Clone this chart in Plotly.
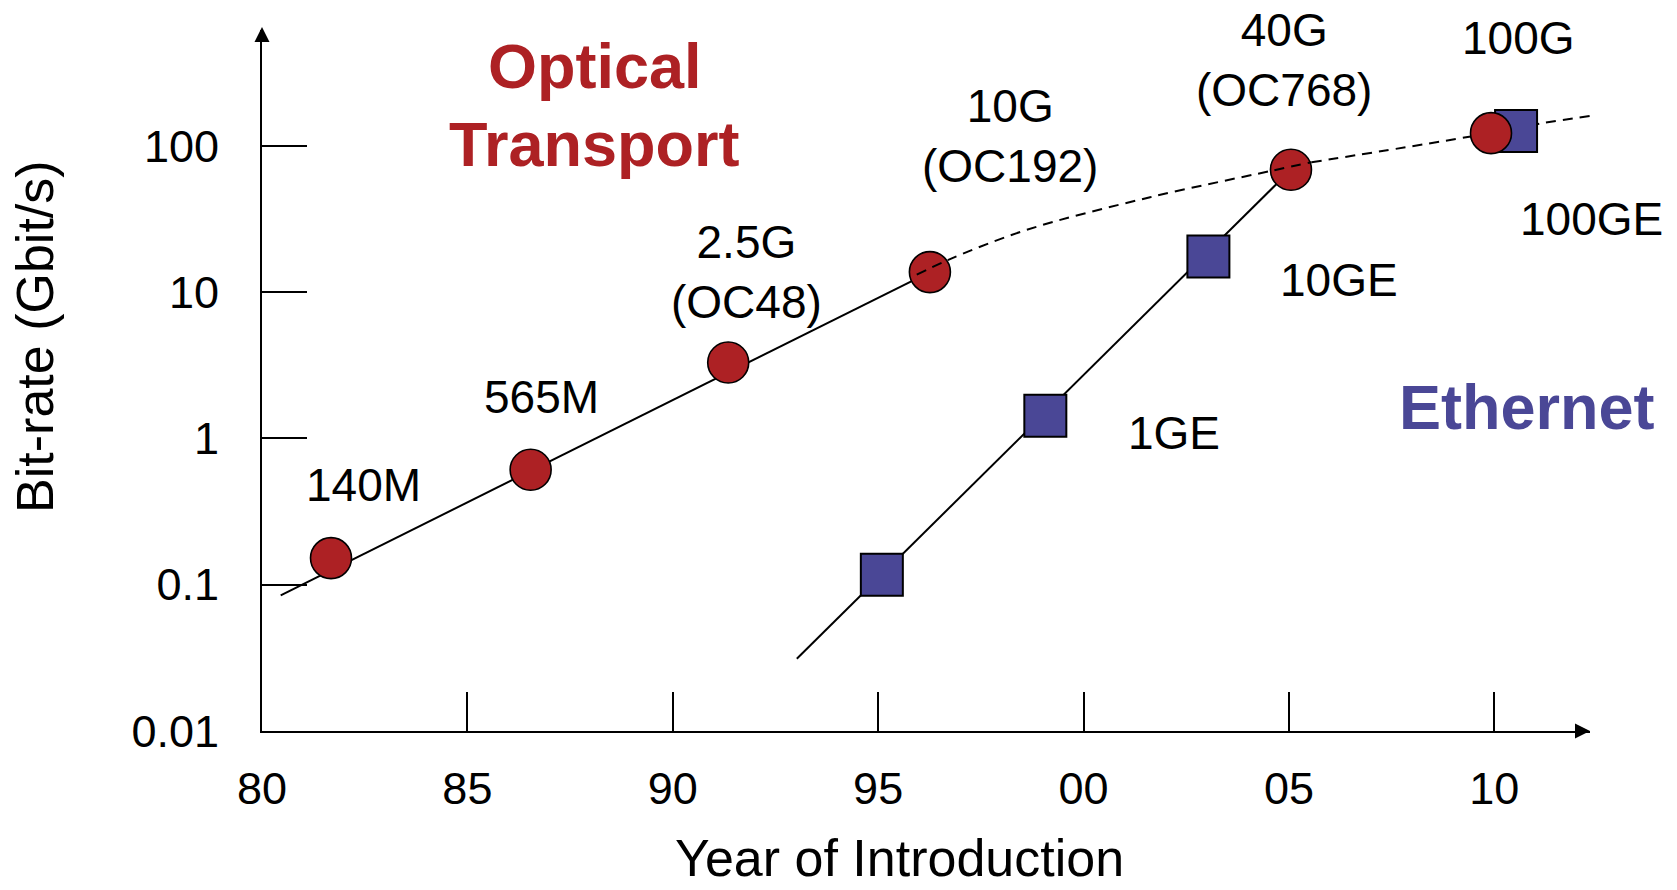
import plotly.graph_objects as go

# ---------------- data ----------------
# Optical transport generations (red circles)
optical_years = [1981.68, 1986.54, 1991.35, 1996.26, 2005.05, 2009.92]
optical_rates = [0.152, 0.611, 3.30, 13.7, 68.6, 122.0]

# Ethernet generations (blue squares)
ethernet_years = [1995.09, 1999.07, 2003.04, 2010.53]
ethernet_rates = [0.117, 1.43, 17.5, 126.0]

# Solid trend lines
optical_trend_years = [1980.455, 1996.26]
optical_trend_rates = [0.0846, 13.7]
ethernet_trend_years = [1993.02, 2005.05]
ethernet_trend_rates = [0.0312, 68.6]

# Dashed projection of optical transport
projection_years = [1995.94, 1996.75, 1998.61, 2001.62, 2004.54, 2005.55, 2009.39, 2011.11, 2012.34]
projection_rates = [13.16, 16.8, 26.6, 44.5, 67.1, 77.2, 115.3, 141.9, 160.0]

# Axis ticks
x_tick_years = [1980, 1985, 1990, 1995, 2000, 2005, 2010]
x_tick_labels = ["80", "85", "90", "95", "00", "05", "10"]
y_tick_values = [0.01, 0.1, 1, 10, 100]
y_tick_labels = ["0.01", "0.1", "1", "10", "100"]

# Text labels
point_labels = ["140M", "565M", "2.5G<br>(OC48)", "10G<br>(OC192)", "40G<br>(OC768)", "100G",
                "1GE", "10GE", "100GE"]
group_labels = ["Optical", "Transport", "Ethernet"]
x_title = "Year of Introduction"
y_title = "Bit-rate (Gbit/s)"

# ---------------- styling ----------------
RED = "#AD2124"
BLUE = "#4A4796"
FONT = "Liberation Sans, Arial, sans-serif"
split = 5  # dashed part drawn above the circles / below the last markers

fig = go.Figure()
fig.add_trace(go.Scatter(x=optical_trend_years, y=optical_trend_rates, mode="lines",
                         line=dict(color="black", width=2), hoverinfo="skip"))
fig.add_trace(go.Scatter(x=ethernet_trend_years, y=ethernet_trend_rates, mode="lines",
                         line=dict(color="black", width=2), hoverinfo="skip"))
fig.add_trace(go.Scatter(x=projection_years[split:], y=projection_rates[split:], mode="lines",
                         line=dict(color="black", width=2, dash="10px,7px", shape="spline"),
                         hoverinfo="skip"))
fig.add_trace(go.Scatter(x=ethernet_years, y=ethernet_rates, mode="markers",
                         marker=dict(symbol="square", size=42, color=BLUE,
                                     line=dict(color="black", width=2)),
                         cliponaxis=False))
fig.add_trace(go.Scatter(x=optical_years, y=optical_rates, mode="markers",
                         marker=dict(symbol="circle", size=41, color=RED,
                                     line=dict(color="black", width=1.6)),
                         cliponaxis=False))
fig.add_trace(go.Scatter(x=projection_years[:split + 1], y=projection_rates[:split + 1], mode="lines",
                         line=dict(color="black", width=2, dash="10px,7px", shape="spline"),
                         hoverinfo="skip"))

# label positions in paper coordinates
label_pos = [(0.0761, 0.3509), (0.2106, 0.4769), (0.3645, 0.6548), (0.5633, 0.8484),
             (0.7696, 0.9578), (0.9458, 0.9882), (0.6867, 0.4251), (0.8110, 0.6434),
             (1.0013, 0.7304)]
annotations = []
for txt, (px, py) in zip(point_labels, label_pos):
    annotations.append(dict(x=px, y=py, xref="paper", yref="paper", text=txt, showarrow=False,
                            xanchor="center", yanchor="middle",
                            font=dict(family=FONT, size=46, color="black")))
group_pos = [(0.2508, 0.9490, RED), (0.2505, 0.8374, RED), (0.9526, 0.4622, BLUE)]
for txt, (px, py, col) in zip(group_labels, group_pos):
    annotations.append(dict(x=px, y=py, xref="paper", yref="paper", text="<b>%s</b>" % txt,
                            showarrow=False, xanchor="center", yanchor="middle",
                            font=dict(family=FONT, size=63, color=col)))
annotations.append(dict(x=0.4804, y=-0.1812, xref="paper", yref="paper", text=x_title,
                        showarrow=False, xanchor="center", yanchor="middle",
                        font=dict(family=FONT, size=52, color="black")))
annotations.append(dict(x=-0.1710, y=0.5635, xref="paper", yref="paper", text=y_title,
                        showarrow=False, xanchor="center", yanchor="middle", textangle=-90,
                        font=dict(family=FONT, size=52, color="black")))
# axis arrowheads
annotations.append(dict(x=0, y=1, xref="paper", yref="paper", text="", showarrow=True,
                        ax=0, ay=16, arrowhead=2, arrowsize=1.5, arrowwidth=2,
                        arrowcolor="black", yshift=3))
annotations.append(dict(x=1, y=0, xref="paper", yref="paper", text="", showarrow=True,
                        ax=-16, ay=0, arrowhead=2, arrowsize=1.5, arrowwidth=2,
                        arrowcolor="black"))

fig.update_layout(
    width=1677, height=890,
    margin=dict(l=262, r=87, t=30, b=159),
    paper_bgcolor="white", plot_bgcolor="white",
    showlegend=False,
    font=dict(family=FONT, size=45, color="black"),
    annotations=annotations,
    xaxis=dict(range=[1980, 2012.33], tickvals=x_tick_years, ticktext=x_tick_labels,
               ticks="inside", ticklen=39, tickwidth=2, tickcolor="black",
               showline=True, linewidth=2, linecolor="black",
               showgrid=False, zeroline=False, ticklabelstandoff=17,
               tickfont=dict(family=FONT, size=45, color="black")),
    yaxis=dict(type="log", range=[-2, 2.7915], tickvals=y_tick_values, ticktext=y_tick_labels,
               ticks="inside", ticklen=45, tickwidth=2, tickcolor="black",
               showline=True, linewidth=2, linecolor="black",
               showgrid=False, zeroline=False, ticklabelstandoff=32,
               tickfont=dict(family=FONT, size=45, color="black")),
)

fig.write_html("out.html", config={"displayModeBar": False},
               post_script="document.body.style.margin='0px';document.body.style.overflow='hidden';")
